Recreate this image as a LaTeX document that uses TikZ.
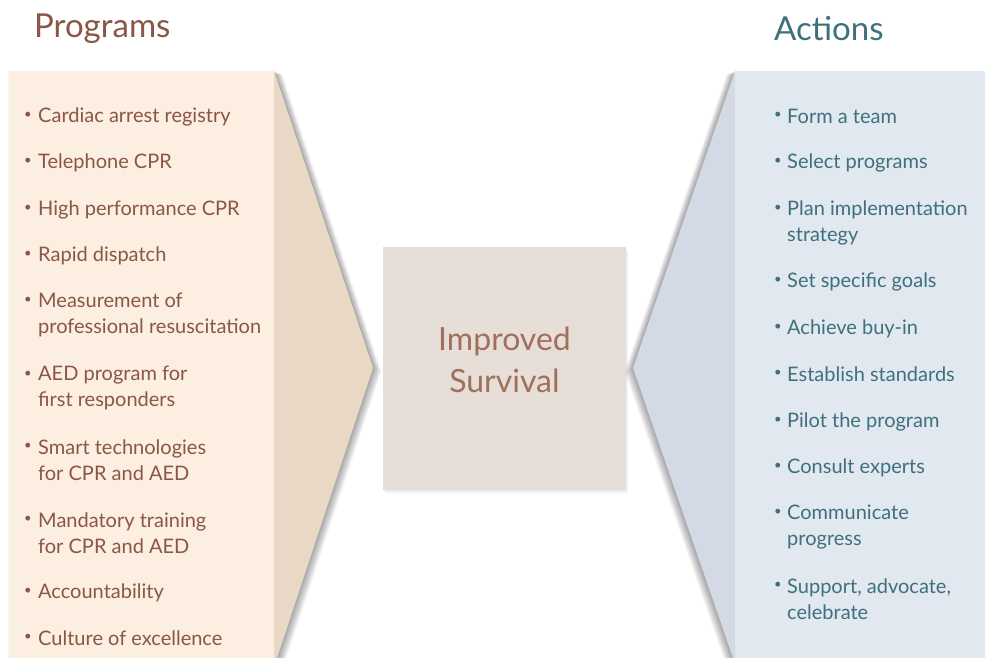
\documentclass[tikz,border=0pt]{standalone}
\usepackage{fontspec}
\setmainfont{Lato}
\usetikzlibrary{calc}
\definecolor{progbg}{RGB}{252,238,225}
\definecolor{progdk}{RGB}{234,216,199}
\definecolor{actbg}{RGB}{226,232,240}
\definecolor{actdk}{RGB}{211,218,229}
\definecolor{centerbg}{RGB}{230,222,215}
\definecolor{brownt}{RGB}{139,86,70}
\definecolor{brownc}{RGB}{160,112,92}
\definecolor{tealt}{RGB}{62,112,125}
\tikzset{
  ptxt/.style={anchor=west, align=left, inner sep=0pt, text=brownt, font=\fontsize{20}{26}\selectfont},
  atxt/.style={anchor=west, align=left, inner sep=0pt, text=tealt, font=\fontsize{20}{26}\selectfont},
  pbul/.style={anchor=center, inner sep=0pt, text=brownt, font=\fontsize{13}{13}\selectfont},
  abul/.style={anchor=center, inner sep=0pt, text=tealt, font=\fontsize{13}{13}\selectfont},
  title/.style={anchor=west, inner sep=0pt, font=\fontsize{33}{36}\selectfont},
}
\begin{document}
\begin{tikzpicture}[x=1pt,y=-1pt]
\useasboundingbox (0,0) rectangle (985,658);
\fill[white] (0,0) rectangle (985,658);
% shadows
\foreach \i in {1,...,12}{
  \fill[black,opacity=0.03] ($(10,71)+(\i*0.7,\i*0.3)$) -- ++(264,0) -- ++(99,297) -- ++(-96,290) -- ++(-267,0) -- cycle;
  \fill[black,opacity=0.03] ($(985,71)+(-\i*0.7,\i*0.3)$) -- ++(-250,0) -- ++(-102,297) -- ++(100,290) -- ++(252,0) -- cycle;
  \fill[black,opacity=0.008] ($(383,247)+(\i*0.2,\i*0.35)$) rectangle ++(243,243);
}
\fill[black,opacity=0.04] (8,71) rectangle (10,658);
% left panel
\fill[progbg] (10,71) rectangle (274,658);
\fill[progdk] (274,71) -- (373,368) -- (277,658) -- (274,658) -- cycle;
% right panel
\fill[actbg] (735,71) rectangle (985,658);
\fill[actdk] (735,71) -- (633,368) -- (733,658) -- (735,658) -- cycle;
% center
\fill[centerbg] (383,247) rectangle (626,490);
\node[align=center, text=brownc, font=\fontsize{32}{42}\selectfont, inner sep=0pt] (center) at (504.5,360) {Improved\\Survival};
% titles
\node[title, text=brownt] (ptitle) at (34,29) {Programs};
\node[title, text=tealt] (atitle) at (774,29) {Actions};
% left bullets
\node[pbul] (pb1) at (28,115) {•}; \node[ptxt] (p1) at (38,116.5) {Cardiac arrest registry};
\node[pbul] (pb2) at (28,161) {•}; \node[ptxt] (p2) at (38,162.5) {Telephone CPR};
\node[pbul] (pb3) at (28,208) {•}; \node[ptxt] (p3) at (38,209.5) {High performance CPR};
\node[pbul] (pb4) at (28,254) {•}; \node[ptxt] (p4) at (38,255.5) {Rapid dispatch};
\node[pbul] (pb5) at (28,300) {•}; \node[ptxt] (p5) at (38,315) {Measurement of\\professional resuscitation};
\node[pbul] (pb6) at (28,374) {•}; \node[ptxt] (p6) at (38,388) {AED program for\\first responders};
\node[pbul] (pb7) at (28,446) {•}; \node[ptxt] (p7) at (38,460.5) {Smart technologies\\for CPR and AED};
\node[pbul] (pb8) at (28,519) {•}; \node[ptxt] (p8) at (38,533) {Mandatory training\\for CPR and AED};
\node[pbul] (pb9) at (28,591) {•}; \node[ptxt] (p9) at (38,592.5) {Accountability};
\node[pbul] (pb10) at (28,637) {•}; \node[ptxt] (p10) at (38,638.5) {Culture of excellence};
% right bullets
\node[abul] (ab1) at (778,115) {•}; \node[atxt] (a1) at (787,116.5) {Form a team};
\node[abul] (ab2) at (778,161) {•}; \node[atxt] (a2) at (787,162.5) {Select programs};
\node[abul] (ab3) at (778,208) {•}; \node[atxt] (a3) at (787,223) {Plan implementation\\strategy};
\node[abul] (ab4) at (778,280) {•}; \node[atxt] (a4) at (787,281.5) {Set specific goals};
\node[abul] (ab5) at (778,327) {•}; \node[atxt] (a5) at (787,328.5) {Achieve buy-in};
\node[abul] (ab6) at (778,373) {•}; \node[atxt] (a6) at (787,374.5) {Establish standards};
\node[abul] (ab7) at (778,420) {•}; \node[atxt] (a7) at (787,421.5) {Pilot the program};
\node[abul] (ab8) at (778,466) {•}; \node[atxt] (a8) at (787,467.5) {Consult experts};
\node[abul] (ab9) at (778,512) {•}; \node[atxt] (a9) at (787,527) {Communicate\\progress};
\node[abul] (ab10) at (778,585) {•}; \node[atxt] (a10) at (787,599.5) {Support, advocate,\\celebrate};
\end{tikzpicture}
\end{document}
